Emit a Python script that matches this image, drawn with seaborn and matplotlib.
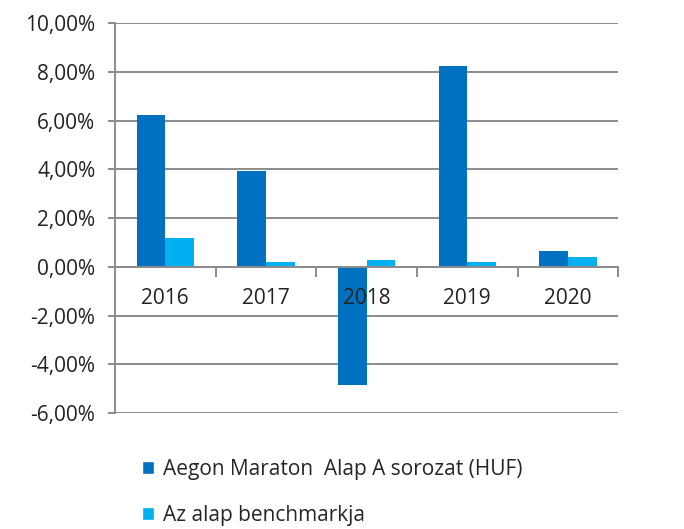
import seaborn as sns
import matplotlib.pyplot as plt
import matplotlib.ticker as mticker
from matplotlib.patches import Patch
import pandas as pd

years = ["2016", "2017", "2018", "2019", "2020"]
fund = [6.24, 3.95, -4.85, 8.23, 0.67]
benchmark = [1.19, 0.19, 0.30, 0.19, 0.41]
series_names = ["Aegon Maraton  Alap A sorozat (HUF)", "Az alap benchmarkja"]
colors = ["#0070C0", "#00B0F0"]
yticks = [-6, -4, -2, 0, 2, 4, 6, 8, 10]

df = pd.DataFrame({
    "year": years * 2,
    "value": fund + benchmark,
    "series": [series_names[0]] * len(years) + [series_names[1]] * len(years),
})

sns.set_style("white")
plt.rcParams["font.family"] = ["Open Sans", "DejaVu Sans"]

fig = plt.figure(figsize=(6.84, 5.29), dpi=100)
ax = fig.add_axes([0.168, 0.219, 0.736, 0.7375])

sns.barplot(data=df, x="year", y="value", hue="series", palette=colors,
            width=0.57, ax=ax, legend=False, saturation=1, linewidth=0)

# gridlines under the bars, axis labels stay on top (2018 label overlaps the bar)
for t in yticks:
    ax.axhline(t, color="#8c8c8c", linewidth=1.4, zorder=0.5)
ax.set_axisbelow(False)

ax.set_ylim(-6, 10)
ax.set_xlim(-0.5, 4.5)
ax.set_yticks(yticks)
ax.yaxis.set_major_formatter(mticker.FuncFormatter(lambda v, p: f"{v:.2f}%".replace(".", ",")))

for s in ["top", "right"]:
    ax.spines[s].set_visible(False)
ax.spines["left"].set_color("#8c8c8c")
ax.spines["left"].set_linewidth(1.4)
ax.spines["bottom"].set_position(("data", 0))
ax.spines["bottom"].set_color("#8c8c8c")
ax.spines["bottom"].set_linewidth(1.4)

ax.tick_params(axis="y", left=True, length=5, color="#8c8c8c", width=1.4,
               labelsize=15, labelcolor="#222222", pad=9)
ax.set_xticks([i + 0.5 for i in range(len(years))], minor=True)
ax.tick_params(axis="x", which="minor", bottom=True, length=7, color="#8c8c8c", width=1.4)
ax.tick_params(axis="x", which="major", length=0, labelsize=15, labelcolor="#222222", pad=15)
ax.set_xlabel("")
ax.set_ylabel("")

handles = [Patch(facecolor=c) for c in colors]
fig.legend(handles, series_names, loc="upper left", bbox_to_anchor=(0.195, 0.148),
           frameon=False, fontsize=15, handlelength=0.6, handleheight=0.6,
           handletextpad=0.4, labelspacing=1.2, borderaxespad=0)

fig.savefig("out.png", dpi=100)
